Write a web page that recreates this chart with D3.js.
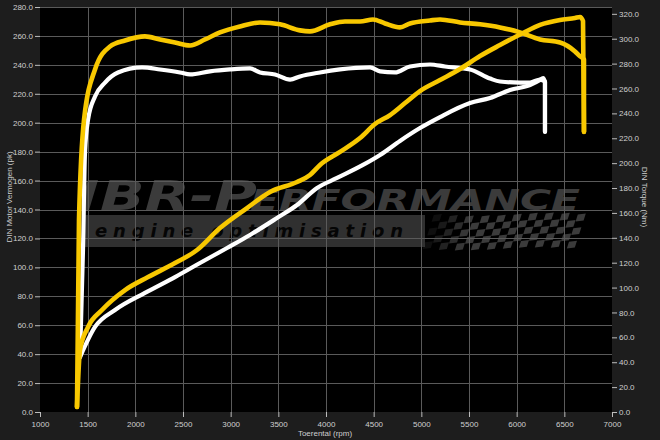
<!DOCTYPE html>
<html><head><meta charset="utf-8">
<script src="https://cdn.jsdelivr.net/npm/d3@7/dist/d3.min.js"></script>
<style>html,body{margin:0;padding:0;background:#1d1d1d;} svg{display:block;}</style>
</head><body><svg id="c" width="660" height="440"></svg>
<script>
// ---- data ----
const rpmTicks = [1000,1500,2000,2500,3000,3500,4000,4500,5000,5500,6000,6500,7000];
const pkTicks = [0,20,40,60,80,100,120,140,160,180,200,220,240,260,280];
const nmTicks = [0,20,40,60,80,100,120,140,160,180,200,220,240,260,280,300,320];

const yellowTorqueRpm = [1388,1409,1462,1577,1734,1892,2101,2259,2416,2574,2731,2888,3098,3308,3518,3727,3832,4042,4199,4357,4493,4619,4776,4881,5091,5196,5406,5616,5825,6035,6245,6455,6612,6665,6706,6706];
const yellowTorque = [4.0,154.5,235.0,275.3,293.8,298.6,301.9,299.4,297.0,294.6,299.4,305.1,309.9,313.1,311.6,306.7,305.9,311.6,313.9,313.9,315.5,312.3,309.1,312.3,314.7,315.5,313.1,311.6,309.1,305.1,299.4,297.0,289.8,285.8,283.3,225.4];

const yellowPowerRpm = [1388,1420,1504,1650,1892,2133,2416,2647,2888,3171,3413,3696,3832,3937,4147,4357,4514,4672,4829,4986,5196,5406,5616,5825,6067,6245,6455,6612,6665,6696,6706];
const yellowPower = [3.5,42.9,58.8,70.5,84.3,93.3,103.0,112.0,127.2,141.0,152.1,159.0,163.9,170.8,179.8,189.4,199.1,205.3,213.6,221.9,229.5,237.1,246.1,253.7,262.0,267.6,271.0,272.4,273.1,270.3,193.6];

const whitePowerRpm = [1420,1577,1787,2101,2416,2678,2962,3203,3486,3696,3906,4116,4388,4567,4776,4986,5196,5511,5721,5930,6140,6245,6277,6297,6297];
const whitePower = [38.0,58.8,70.5,82.3,93.3,103.0,113.4,122.4,134.1,143.1,154.9,161.8,170.8,177.7,187.4,196.3,203.9,213.6,217.1,222.6,226.1,229.5,230.9,228.1,193.6];

const whiteTorqueRpm = [1420,1451,1472,1504,1577,1682,1818,2070,2259,2469,2574,2783,2993,3203,3308,3465,3623,3727,3937,4147,4462,4567,4724,4881,5091,5248,5511,5721,5825,6035,6140,6245,6297,6297];
const whiteTorque = [44.3,130.4,208.5,235.0,253.6,264.8,272.9,276.9,275.3,272.9,271.3,273.8,275.3,276.1,272.9,271.3,267.2,269.7,272.9,275.3,276.9,273.8,272.9,277.7,279.3,277.7,275.3,268.0,265.6,264.8,264.8,267.2,265.6,225.4];

// ---- layout ----
const L = 40, R = 612, T = 7, B = 412;
const svg = d3.select('#c');
const x = d3.scaleLinear().domain([1000,7000]).range([L,R]);
const yL = d3.scaleLinear().domain([0,280]).range([B,T]);
const yR = d3.scaleLinear().domain([0,325.5]).range([B,T]);
const FONT = '"Liberation Sans", Arial, sans-serif';
const TXT = '#cfcfcf';

svg.append('rect').attr('width',660).attr('height',440).attr('fill','#1d1d1d');
svg.append('rect').attr('x',L).attr('y',T).attr('width',R-L).attr('height',B-T).attr('fill','#000');

// ---- watermark ----
const wm = svg.append('g');
wm.append('polygon').attr('points','88,180 98,180 89,210 79,210').attr('fill','#3b3b3b');
wm.append('text').attr('x',100).attr('y',210).attr('font-family','"DejaVu Sans", sans-serif')
  .attr('font-weight','bold').attr('font-style','italic').attr('font-size',41)
  .attr('textLength',157).attr('lengthAdjust','spacingAndGlyphs').attr('fill','#3b3b3b').text('BR-P');
wm.append('text').attr('x',250).attr('y',210).attr('font-family','"DejaVu Sans", sans-serif')
  .attr('font-weight','bold').attr('font-style','italic').attr('font-size',28)
  .attr('textLength',330).attr('lengthAdjust','spacingAndGlyphs').attr('fill','#3b3b3b').text('ERFORMANCE');
wm.append('rect').attr('x',82).attr('y',215).attr('width',343).attr('height',32).attr('fill','#303030');
wm.append('text').attr('x',95).attr('y',237).attr('font-family','"DejaVu Sans", sans-serif')
  .attr('font-weight','bold').attr('font-style','italic').attr('font-size',18)
  .attr('textLength',308).attr('lengthAdjust','spacing').attr('fill','#050505').text('engine optimisation');
// checkered flag
const cells = [];
for (let r = 0; r < 5; r++) for (let c = 0; c < 19; c++) if ((r + c) % 2 === 0) cells.push({r, c});
wm.append('g').selectAll('path').data(cells).join('path')
  .attr('d', d => {
    const cw = 8, ch = 6.8;
    const x0 = 425 + d.c * cw + (4 - d.r) * 2.2, y0 = 215 + d.r * ch;
    const w = Math.sin(d.c / 3) * 1.5;
    return `M${x0},${y0 + w} l${cw},${-1} l${-2.2},${ch} l${-cw},${1} Z`;
  })
  .attr('fill','#3b3b3b')
  .attr('opacity', d => Math.min(1, 0.25 + d.c / 6));

// ---- grid ----
const grid = svg.append('g').attr('stroke','#5a5a5a').attr('stroke-width',1);
grid.selectAll('line.v').data(rpmTicks.slice(1,-1)).join('line')
  .attr('x1',d=>Math.round(x(d))+0.5).attr('x2',d=>Math.round(x(d))+0.5).attr('y1',T).attr('y2',B);
grid.selectAll('line.h').data(pkTicks.slice(1)).join('line')
  .attr('y1',d=>Math.round(yL(d))+0.5).attr('y2',d=>Math.round(yL(d))+0.5).attr('x1',L).attr('x2',R);

// ---- axes ----
function styleAxis(g){
  g.select('.domain').remove();
  g.selectAll('line').attr('stroke','#bdbdbd');
  g.selectAll('text').attr('fill',TXT).attr('font-size',8).attr('font-family',FONT);
}
svg.append('g').attr('transform',`translate(${L},0)`)
  .call(d3.axisLeft(yL).tickValues(pkTicks).tickFormat(d3.format('.1f')).tickSize(5).tickPadding(2)).call(styleAxis);
svg.append('g').attr('transform',`translate(${R},0)`)
  .call(d3.axisRight(yR).tickValues(nmTicks).tickFormat(d3.format('.1f')).tickSize(5).tickPadding(2)).call(styleAxis);
svg.append('g').attr('transform',`translate(0,${B})`)
  .call(d3.axisBottom(x).tickValues(rpmTicks).tickFormat(d3.format('d')).tickSize(5).tickPadding(4)).call(styleAxis);

// titles
svg.append('text').attr('transform','translate(11.5,197) rotate(-90)').attr('text-anchor','middle')
  .attr('fill',TXT).attr('font-size',8).attr('font-family',FONT).text('DIN Motor Vermogen (pk)');
svg.append('text').attr('transform','translate(641.5,197) rotate(90)').attr('text-anchor','middle')
  .attr('fill',TXT).attr('font-size',8).attr('font-family',FONT).text('DIN Torque (Nm)');
svg.append('text').attr('x',325).attr('y',436).attr('text-anchor','middle')
  .attr('fill',TXT).attr('font-size',8).attr('font-family',FONT).text('Toerental (rpm)');

// ---- curves ----
function draw(rpms, vals, yScale, color, width){
  const pts = rpms.map((r,i)=>[r, vals[i]]);
  svg.append('path').datum(pts)
    .attr('d', d3.line().x(d=>x(d[0])).y(d=>yScale(d[1])).curve(d3.curveMonotoneX))
    .attr('fill','none').attr('stroke',color).attr('stroke-width',width)
    .attr('stroke-linejoin','round').attr('stroke-linecap','round');
}
const YEL = '#f8c800';
draw(whitePowerRpm, whitePower, yL, '#ffffff', 4.2);
draw(whiteTorqueRpm, whiteTorque, yR, '#ffffff', 4.2);
draw(yellowPowerRpm, yellowPower, yL, YEL, 4.6);
draw(yellowTorqueRpm, yellowTorque, yR, YEL, 4.6);
</script></body></html>
